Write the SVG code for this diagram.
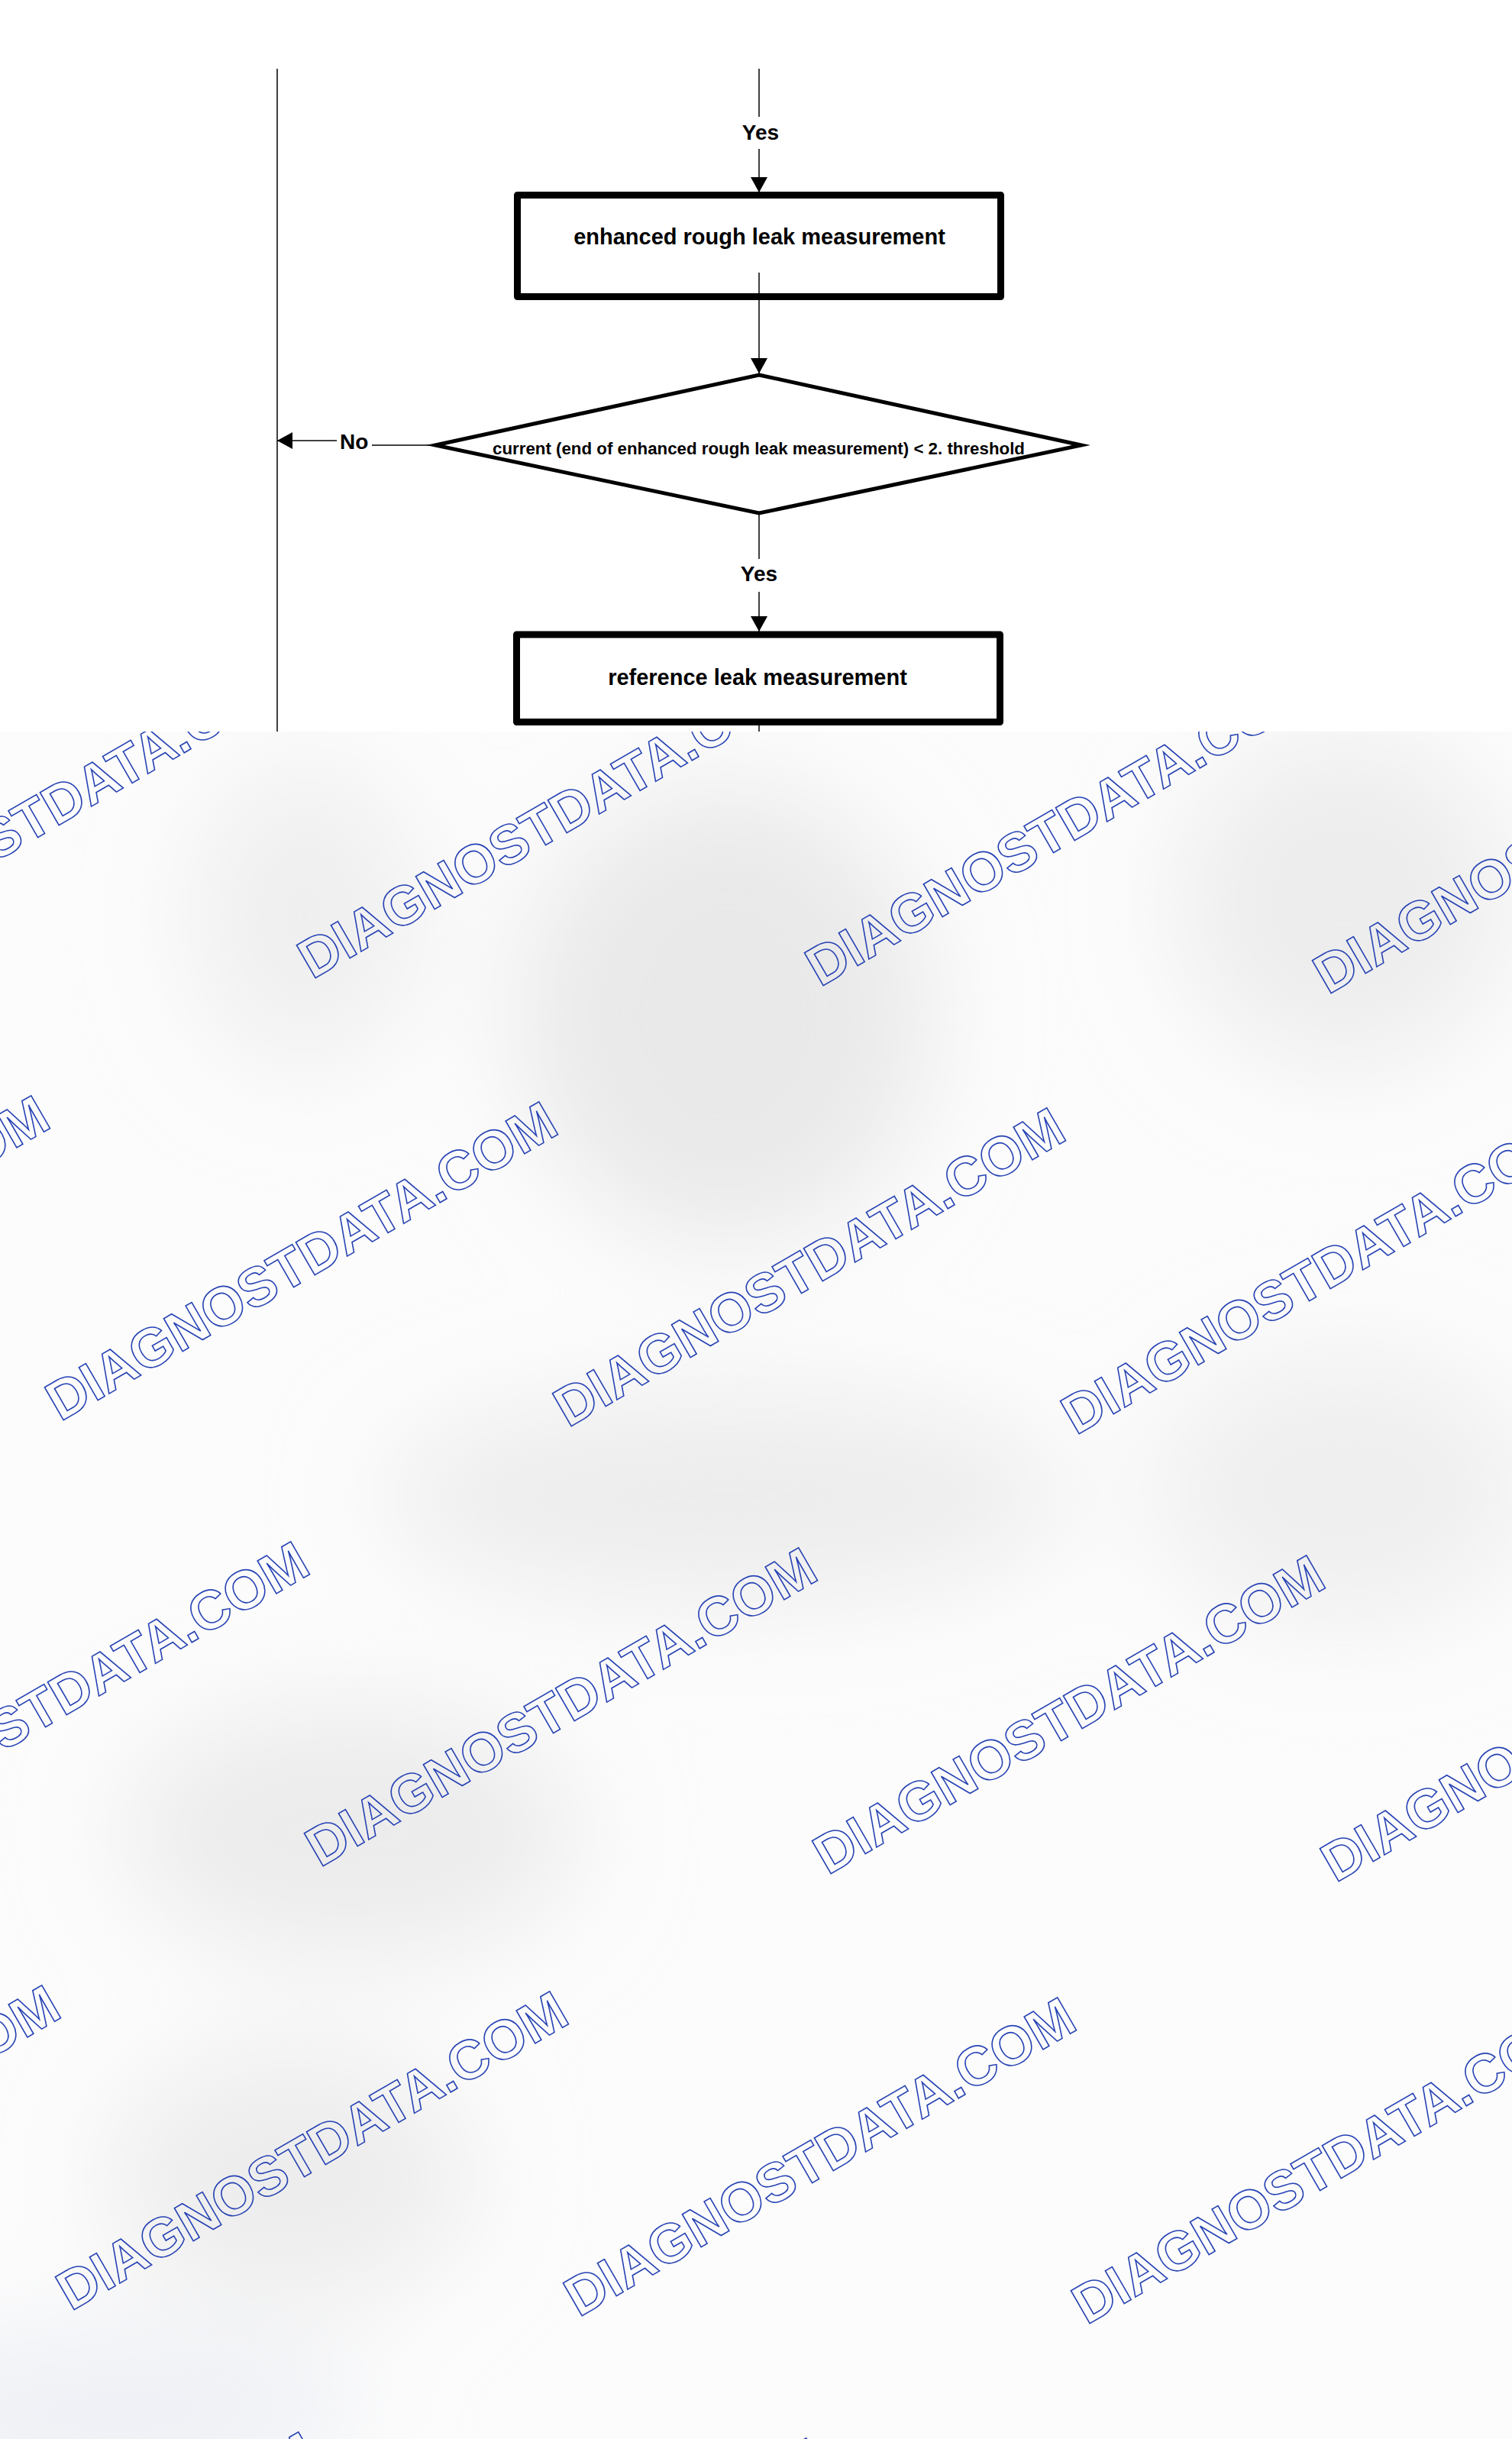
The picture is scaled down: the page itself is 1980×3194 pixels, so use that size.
<svg xmlns="http://www.w3.org/2000/svg" width="1980" height="3194" viewBox="0 0 1980 3194">
<defs>
<style>
.wm{font-family:"Liberation Sans",Arial,sans-serif;font-weight:bold;font-size:72px;fill:none;stroke:#2743b4;stroke-width:1.6}
.lbl{font-family:"Liberation Sans",Arial,sans-serif;font-weight:bold;fill:#000}
.box{fill:#fff;stroke:#000;stroke-width:9;stroke-linejoin:round}
.dia{fill:#fff;stroke:#000;stroke-width:5;stroke-linejoin:miter;stroke-miterlimit:10}
.ln{fill:none;stroke:#000;stroke-width:1.5}
</style>
<marker id="arr" viewBox="0 0 20 22" markerWidth="20" markerHeight="22" refX="20" refY="11" orient="auto" markerUnits="userSpaceOnUse">
<path d="M0,0 L20,11 L0,22 Z" fill="#000"/>
</marker>
<filter id="blur" x="-50%" y="-50%" width="200%" height="200%"><feGaussianBlur stdDeviation="70"/></filter>
</defs>
<g id="background">
<rect x="0" y="0" width="1980" height="3194" fill="#fcfcfc"/>
<g filter="url(#blur)">
<ellipse cx="400" cy="1200" rx="150" ry="200" fill="#efefef"/>
<ellipse cx="950" cy="1330" rx="270" ry="300" fill="#e9e9e9"/>
<ellipse cx="1760" cy="1180" rx="220" ry="220" fill="#ededed"/>
<ellipse cx="950" cy="1960" rx="450" ry="140" fill="#ededed"/>
<ellipse cx="1760" cy="1950" rx="250" ry="180" fill="#efefef"/>
<ellipse cx="460" cy="2400" rx="300" ry="170" fill="#ececec"/>
<ellipse cx="380" cy="2850" rx="240" ry="170" fill="#ededed"/>
<ellipse cx="150" cy="3160" rx="320" ry="110" fill="#eef0f5"/>
</g>
</g>
<g id="watermarks">
<text class="wm" transform="translate(-256,1273) rotate(-30)">DIAGNOSTDATA.COM</text>
<text class="wm" transform="translate(409,1283) rotate(-30)">DIAGNOSTDATA.COM</text>
<text class="wm" transform="translate(1074,1293) rotate(-30)">DIAGNOSTDATA.COM</text>
<text class="wm" transform="translate(1739,1303) rotate(-30)">DIAGNOSTDATA.COM</text>
<text class="wm" transform="translate(-586,1854) rotate(-30)">DIAGNOSTDATA.COM</text>
<text class="wm" transform="translate(79,1862) rotate(-30)">DIAGNOSTDATA.COM</text>
<text class="wm" transform="translate(744,1870) rotate(-30)">DIAGNOSTDATA.COM</text>
<text class="wm" transform="translate(1409,1880) rotate(-30)">DIAGNOSTDATA.COM</text>
<text class="wm" transform="translate(-246,2438) rotate(-30)">DIAGNOSTDATA.COM</text>
<text class="wm" transform="translate(419,2446) rotate(-30)">DIAGNOSTDATA.COM</text>
<text class="wm" transform="translate(1084,2456) rotate(-30)">DIAGNOSTDATA.COM</text>
<text class="wm" transform="translate(1749,2466) rotate(-30)">DIAGNOSTDATA.COM</text>
<text class="wm" transform="translate(-572,3019) rotate(-30)">DIAGNOSTDATA.COM</text>
<text class="wm" transform="translate(93,3027) rotate(-30)">DIAGNOSTDATA.COM</text>
<text class="wm" transform="translate(758,3035) rotate(-30)">DIAGNOSTDATA.COM</text>
<text class="wm" transform="translate(1423,3045) rotate(-30)">DIAGNOSTDATA.COM</text>
<text class="wm" transform="translate(-236,3604) rotate(-30)">DIAGNOSTDATA.COM</text>
<text class="wm" transform="translate(429,3612) rotate(-30)">DIAGNOSTDATA.COM</text>
<text class="wm" transform="translate(1094,3622) rotate(-30)">DIAGNOSTDATA.COM</text>
</g>
<rect id="sheet" x="0" y="0" width="1980" height="958" fill="#fff"/>
<g id="node-enhanced">
<rect class="box" x="677.5" y="255.5" width="633" height="133"/>
<text class="lbl" x="994.5" y="320" font-size="29" text-anchor="middle">enhanced rough leak measurement</text>
</g>
<g id="node-decision">
<polygon class="dia" points="994,491 1416,583 994,672 570,583"/>
<text class="lbl" x="993.5" y="595" font-size="22.3" text-anchor="middle">current (end of enhanced rough leak measurement) &lt; 2. threshold</text>
</g>
<g id="node-reference">
<rect class="box" x="676.5" y="831" width="633" height="114.5"/>
<text class="lbl" x="992" y="897" font-size="29" text-anchor="middle">reference leak measurement</text>
</g>
<g id="connectors">
<line class="ln" x1="363" y1="90" x2="363" y2="958"/>
<line class="ln" x1="994" y1="90" x2="994" y2="153"/>
<line class="ln" x1="994" y1="195" x2="994" y2="252" marker-end="url(#arr)"/>
<text class="lbl" x="996" y="183" font-size="28" text-anchor="middle">Yes</text>
<line class="ln" x1="994" y1="357" x2="994" y2="489" marker-end="url(#arr)"/>
<line class="ln" x1="562" y1="583" x2="487" y2="583"/>
<text class="lbl" x="445" y="588" font-size="28">No</text>
<line class="ln" x1="441" y1="577" x2="363" y2="577" marker-end="url(#arr)"/>
<line class="ln" x1="994" y1="674" x2="994" y2="732"/>
<text class="lbl" x="994" y="761" font-size="28" text-anchor="middle">Yes</text>
<line class="ln" x1="994" y1="775" x2="994" y2="827" marker-end="url(#arr)"/>
<line class="ln" x1="994" y1="950" x2="994" y2="958"/>
</g>
</svg>
